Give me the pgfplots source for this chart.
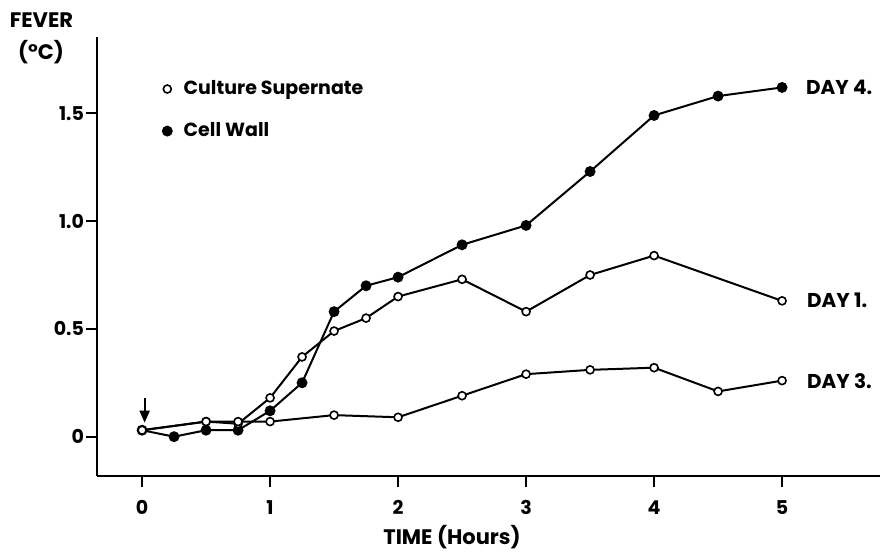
\documentclass[border=0pt]{standalone}
\usepackage{fontspec}
\setmainfont{Poppins}
\usepackage{pgfplots}
\pgfplotsset{compat=1.18}
\usetikzlibrary{arrows.meta}

\begin{document}
\begin{tikzpicture}
\path[use as bounding box] (0,0) rectangle (440.5pt,275.5pt);
\begin{axis}[
  at={(48.5pt,37.65pt)}, anchor=south west,
  scale only axis, width=391.5pt, height=219.35pt,
  xmin=-0.352, xmax=5.765, ymin=-0.181, ymax=1.854,
  axis x line=bottom, axis y line=left,
  axis line style={-, line width=1pt},
  xtick={0,1,2,3,4,5}, xticklabels={0,1,2,3,4,5},
  ytick={0,0.5,1,1.5}, yticklabels={0,0.5,1.0,1.5},
  tick align=outside, major tick length=5.5pt,
  tick style={line width=1pt, black},
  /pgf/number format/assume math mode=true,
  ticklabel style={font=\fontsize{9.5}{10}\selectfont\bfseries},
  xticklabel style={yshift=-3.5pt},
  yticklabel style={xshift=2.5pt},
  clip=false,
  every axis plot/.append style={black, line width=1pt},
  legend style={draw=none, fill=none, at={(0.076,0.92)}, anchor=north west,
    font=\fontsize{9.5}{11}\selectfont\bfseries, row sep=8.5pt, column sep=4pt},
  legend cell align=left,
]
% Legend symbols
\addlegendimage{only marks, mark=*, mark size=2pt, mark options={fill=white, line width=0.8pt}}
\addlegendentry{Culture Supernate}
\addlegendimage{only marks, mark=*, mark size=2.2pt, mark options={fill=black}}
\addlegendentry{Cell Wall}

% Cell wall, day 4
\addplot[forget plot, mark=*, mark size=2.2pt, mark options={fill=black}] coordinates {
  (0,0.03) (0.25,0.0) (0.5,0.03) (0.75,0.03) (1.0,0.12) (1.25,0.25)
  (1.5,0.58) (1.75,0.70) (2.0,0.74) (2.5,0.89) (3.0,0.98) (3.5,1.23)
  (4.0,1.49) (4.5,1.58) (5.0,1.62)
};
% Culture supernate, day 1
\addplot[forget plot, mark=*, mark size=2pt, mark options={fill=white, line width=0.8pt}] coordinates {
  (0,0.03) (0.5,0.07) (0.75,0.06) (1.0,0.18) (1.25,0.37) (1.5,0.49)
  (1.75,0.55) (2.0,0.65) (2.5,0.73) (3.0,0.58) (3.5,0.75) (4.0,0.84)
  (5.0,0.63)
};
% Culture supernate, day 3
\addplot[forget plot, mark=*, mark size=2pt, mark options={fill=white, line width=0.8pt}] coordinates {
  (0,0.03) (0.5,0.07) (0.75,0.07) (1.0,0.07) (1.5,0.10) (2.0,0.09)
  (2.5,0.19) (3.0,0.29) (3.5,0.31) (4.0,0.32) (4.5,0.21) (5.0,0.26)
};

% Injection time
\draw[-{Triangle[length=6pt,width=5pt]}, line width=1pt] (axis cs:0.02,0.18) -- (axis cs:0.02,0.065);
\end{axis}

% Axis titles and series labels
\node[font=\fontsize{10.5}{12}\selectfont\bfseries] at (20.75pt,265.5pt) {FEVER};
\node[font=\fontsize{10.5}{12}\selectfont\bfseries] at (20.5pt,249.5pt) {(°C)};
\node[font=\fontsize{10.5}{12}\selectfont\bfseries] at (226pt,7pt) {TIME (Hours)};
\node[anchor=west, font=\fontsize{10}{12}\selectfont\bfseries] at (399.5pt,232pt) {DAY 4.};
\node[anchor=west, font=\fontsize{10}{12}\selectfont\bfseries] at (400pt,125.5pt) {DAY 1.};
\node[anchor=west, font=\fontsize{10}{12}\selectfont\bfseries] at (400pt,85pt) {DAY 3.};
\end{tikzpicture}
\end{document}
